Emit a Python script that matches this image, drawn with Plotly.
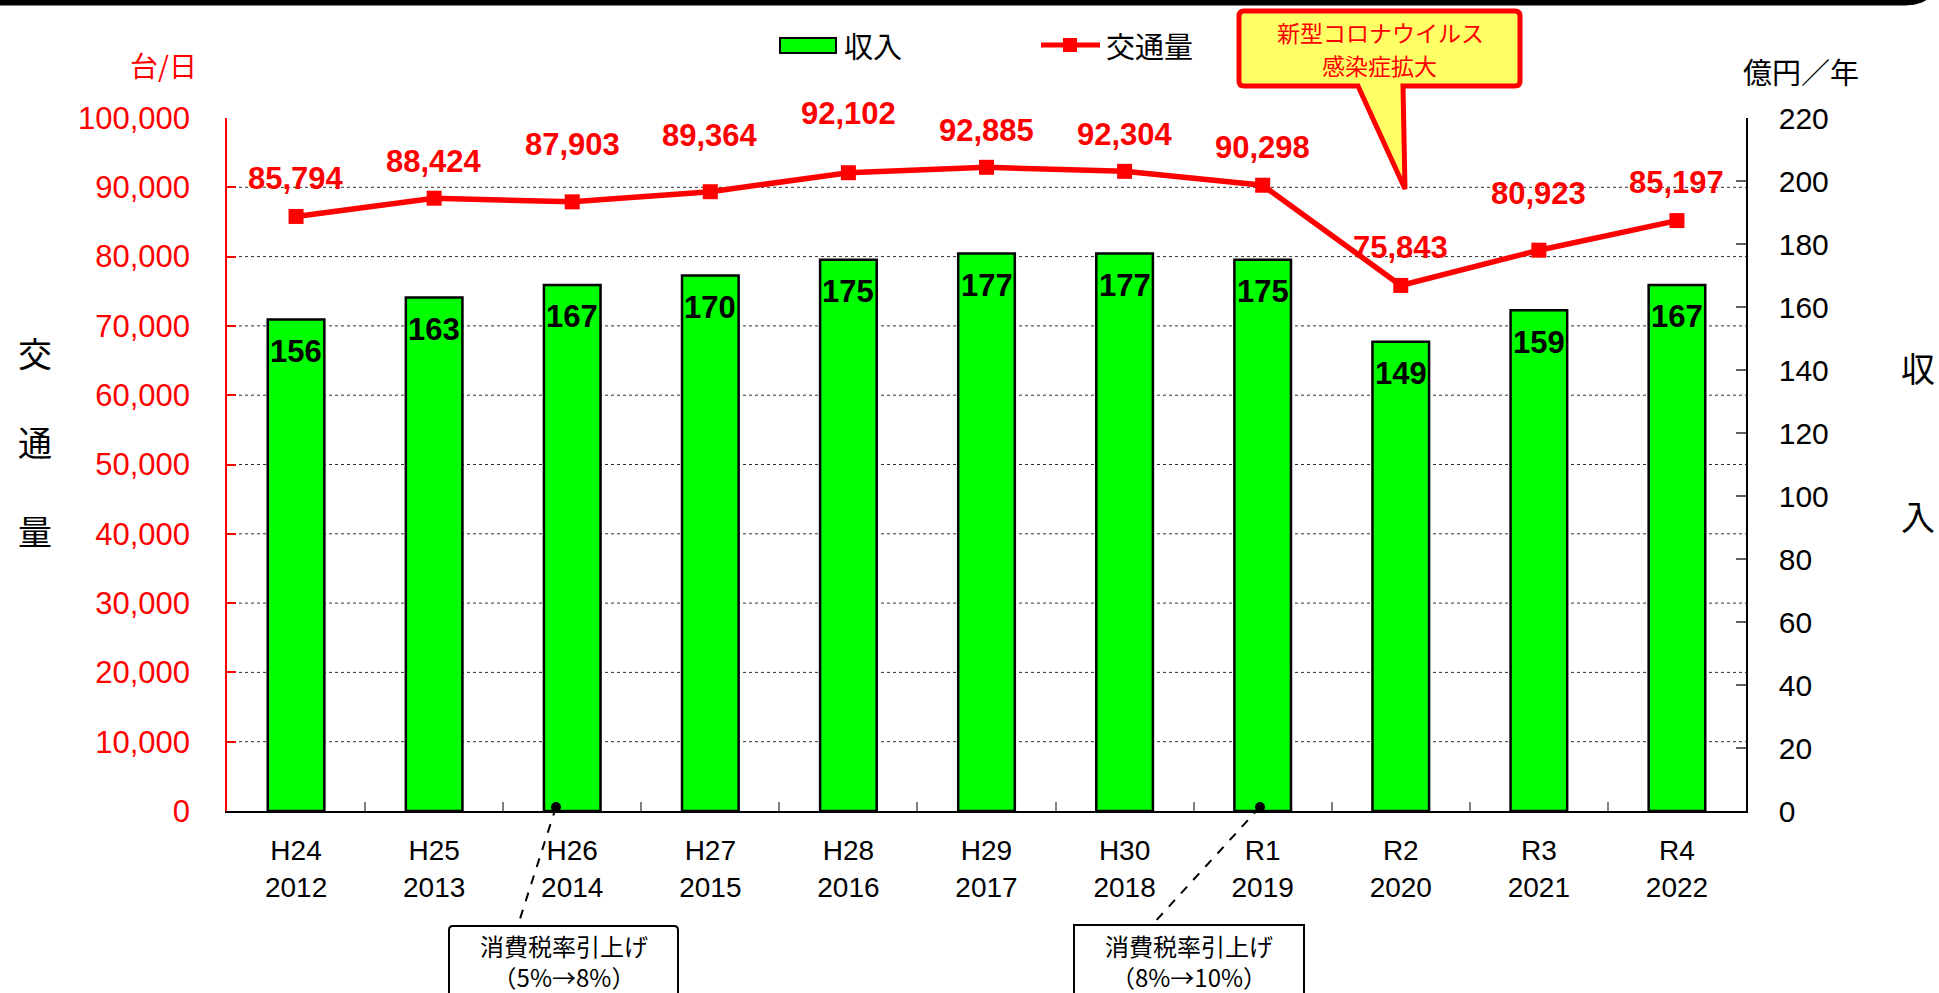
import plotly.graph_objects as go

# ---- data ----
eras = ["H24", "H25", "H26", "H27", "H28", "H29", "H30", "R1", "R2", "R3", "R4"]
years = ["2012", "2013", "2014", "2015", "2016", "2017", "2018", "2019", "2020", "2021", "2022"]
revenue = [156, 163, 167, 170, 175, 177, 177, 175, 149, 159, 167]          # 億円／年
traffic = [85794, 88424, 87903, 89364, 92102, 92885, 92304, 90298, 75843, 80923, 85197]  # 台/日
left_ticks = list(range(0, 100001, 10000))
right_ticks = list(range(0, 221, 20))

# ---- styling (label offsets in px) ----
traffic_label_shift = [38, 37, 57, 56, 59, 37, 37, 38, 38, 57, 38]

cats = [f"{e}<br>{y}" for e, y in zip(eras, years)]

W, H = 1939, 993
L, R, T, B = 227, 1746, 118, 811


def PX(x):
    return (x - L) / (R - L)


def PY(y):
    return (B - y) / (B - T)


SANS = "Liberation Sans, Arial, Noto Sans CJK JP"
CJK = "Noto Sans CJK JP, Liberation Sans"

fig = go.Figure()

fig.add_trace(go.Bar(
    x=cats, y=revenue, name="収入", yaxis="y",
    marker=dict(color="#00FF00", line=dict(color="black", width=2.5)),
    width=0.41, showlegend=False,
))
fig.add_trace(go.Scatter(
    x=cats, y=traffic, name="交通量", yaxis="y2", mode="lines+markers",
    line=dict(color="#FF0000", width=5.5),
    marker=dict(symbol="square", size=15, color="#FF0000"),
    showlegend=False,
))

annotations = []
shapes = []


def ptext(x, y, text, size, color="black", family=CJK, xanchor="center"):
    annotations.append(dict(x=PX(x), y=PY(y), xref="paper", yref="paper", text=text, showarrow=False,
                            xanchor=xanchor, yanchor="middle",
                            font=dict(family=family, size=size, color=color)))


# gridlines (dotted) on left-axis values
for v in left_ticks[1:-1]:
    shapes.append(dict(type="line", xref="paper", x0=0, x1=1, yref="y2", y0=v, y1=v,
                       line=dict(color="#303030", width=1, dash="dot"), layer="below"))

# bar value labels
for c, v in zip(cats, revenue):
    annotations.append(dict(x=c, y=v, xref="x", yref="y", text=f"<b>{v}</b>", showarrow=False,
                            xanchor="center", yanchor="middle", yshift=-32,
                            font=dict(family=SANS, size=31, color="black")))
# traffic labels
for c, v, s in zip(cats, traffic, traffic_label_shift):
    annotations.append(dict(x=c, y=v, xref="x", yref="y2", text=f"<b>{v:,}</b>", showarrow=False,
                            xanchor="center", yanchor="middle", yshift=s,
                            font=dict(family=SANS, size=31, color="#FF0000")))

# axis unit labels & titles
ptext(163, 65, "台/日", 28, "#FF0000")
ptext(1801, 71, "億円／年", 29)
for ch, yy in zip(["交", "通", "量"], [352, 441, 530]):
    ptext(35, yy, ch, 34)
for ch, yy in zip(["収", "入"], [367, 515]):
    ptext(1918, yy, ch, 34)

# legend (manual)
shapes.append(dict(type="rect", xref="paper", yref="paper", x0=PX(780), x1=PX(836), y0=PY(53), y1=PY(38),
                   fillcolor="#00FF00", line=dict(color="black", width=2)))
ptext(842, 45, "収入", 29, xanchor="left")
shapes.append(dict(type="line", xref="paper", yref="paper", x0=PX(1041), x1=PX(1100), y0=PY(45), y1=PY(45),
                   line=dict(color="#FF0000", width=5)))
shapes.append(dict(type="rect", xref="paper", yref="paper", x0=PX(1063), x1=PX(1077), y0=PY(52), y1=PY(38),
                   fillcolor="#FF0000", line=dict(color="#FF0000", width=0)))
ptext(1104, 45, "交通量", 29, xanchor="left")

# top frame band with rounded right end
top = (f"M {PX(-20)},{PY(-20)} L {PX(-20)},{PY(5)} L {PX(1905)},{PY(5)} "
       f"Q {PX(1925)},{PY(5)} {PX(1935)},{PY(-8)} L {PX(1935)},{PY(-20)} Z")
shapes.append(dict(type="path", xref="paper", yref="paper", path=top,
                   fillcolor="black", line=dict(color="black", width=1)))

# callout
bx0, bx1, by0, by1, r = 1239, 1520, 11, 86, 5
p = [
    f"M {PX(bx0 + r)},{PY(by0)}",
    f"L {PX(bx1 - r)},{PY(by0)}",
    f"Q {PX(bx1)},{PY(by0)} {PX(bx1)},{PY(by0 + r)}",
    f"L {PX(bx1)},{PY(by1 - r)}",
    f"Q {PX(bx1)},{PY(by1)} {PX(bx1 - r)},{PY(by1)}",
    f"L {PX(1403)},{PY(by1)}",
    f"L {PX(1405)},{PY(189)}",
    f"L {PX(1358)},{PY(by1)}",
    f"L {PX(bx0 + r)},{PY(by1)}",
    f"Q {PX(bx0)},{PY(by1)} {PX(bx0)},{PY(by1 - r)}",
    f"L {PX(bx0)},{PY(by0 + r)}",
    f"Q {PX(bx0)},{PY(by0)} {PX(bx0 + r)},{PY(by0)}",
    "Z",
]
shapes.append(dict(type="path", xref="paper", yref="paper", path=" ".join(p),
                   fillcolor="#FFFF66", line=dict(color="#FF0000", width=5)))
ptext(1380, 32, "新型コロナウイルス", 23, "#FF0000")
ptext(1379, 65, "感染症拡大", 23, "#FF0000")

# consumption tax notes
for (dx, dy), (ex, ey), (x0, x1), rounded, txt2 in [
    ((556, 807), (518, 925), (449, 678), True, "（5%→8%）"),
    ((1260, 807), (1152, 925), (1074, 1304), False, "（8%→10%）"),
]:
    shapes.append(dict(type="line", xref="paper", yref="paper", x0=PX(dx), y0=PY(dy), x1=PX(ex), y1=PY(ey),
                       line=dict(color="black", width=2, dash="dash")))
    shapes.append(dict(type="circle", xref="paper", yref="paper", x0=PX(dx - 5), x1=PX(dx + 5),
                       y0=PY(dy + 5), y1=PY(dy - 5), fillcolor="black", line=dict(color="black", width=0)))
    if rounded:
        rr = 4
        pp = (f"M {PX(x0)},{PY(1010)} L {PX(x0)},{PY(926 + rr)} Q {PX(x0)},{PY(926)} {PX(x0 + rr)},{PY(926)} "
              f"L {PX(x1 - rr)},{PY(926)} Q {PX(x1)},{PY(926)} {PX(x1)},{PY(926 + rr)} L {PX(x1)},{PY(1010)}")
        shapes.append(dict(type="path", xref="paper", yref="paper", path=pp,
                           fillcolor="white", line=dict(color="black", width=2)))
    else:
        shapes.append(dict(type="rect", xref="paper", yref="paper", x0=PX(x0), x1=PX(x1), y0=PY(1010), y1=PY(925),
                           fillcolor="white", line=dict(color="black", width=2)))
    cx = (x0 + x1) / 2
    ptext(cx, 961, "消費税率引上げ<br>" + txt2, 24)

fig.update_layout(
    width=W, height=H,
    margin=dict(l=L, r=W - R, t=T, b=H - B, pad=0),
    paper_bgcolor="white", plot_bgcolor="white",
    showlegend=False, bargap=0.59,
    xaxis=dict(type="category", range=[-0.5, len(cats) - 0.5], tickson="boundaries", ticks="inside",
               ticklen=9, tickwidth=1.5,
               tickcolor="#808080", showline=True, linecolor="black", linewidth=1.5,
               tickfont=dict(family=SANS, size=28, color="black"), showgrid=False,
               ticklabelstandoff=14),
    yaxis=dict(side="right", range=[0, 220], tickvals=right_ticks, ticks="inside", ticklen=10,
               tickcolor="#606060", tickwidth=1.5, showline=True, linecolor="black", linewidth=1.5,
               showgrid=False, zeroline=False,
               tickfont=dict(family=SANS, size=30, color="black"), ticklabelstandoff=25),
    yaxis2=dict(side="left", overlaying="y", range=[0, 100000], tickvals=left_ticks, tickformat=",",
                ticks="inside", ticklen=9, tickcolor="#FF0000", tickwidth=1.5, showline=True,
                linecolor="#FF0000", linewidth=1.5, showgrid=False, zeroline=False,
                tickfont=dict(family=SANS, size=31, color="#FF0000"), ticklabelstandoff=29),
    shapes=shapes, annotations=annotations,
)

fig.write_html("out.html", config={"displayModeBar": False},
               post_script="document.body.style.margin='0';document.body.style.overflow='hidden';")
